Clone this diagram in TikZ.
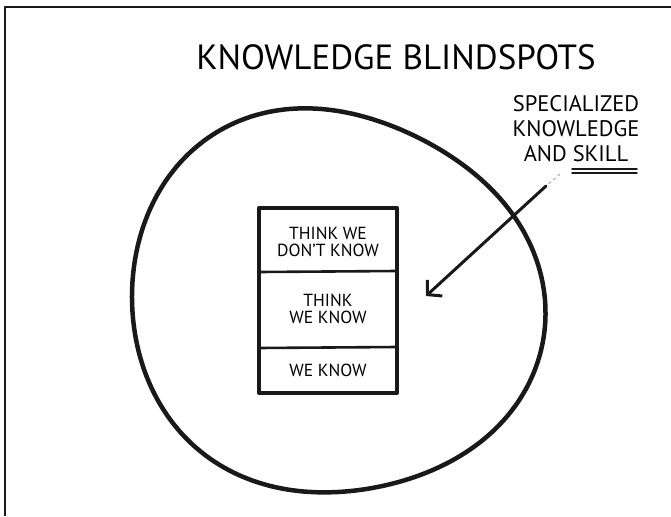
\documentclass[tikz,border=0pt]{standalone}
\usepackage{fontspec}
\setmainfont{PT Sans}
\usetikzlibrary{arrows.meta}
\begin{document}
\begin{tikzpicture}[x=1pt,y=-1pt,
  declare function={rr(\t)=199.25-4.7*cos(\t)+2.9*sin(\t)+8*cos(2*\t)+5*sin(2*\t)+5.2*cos(3*\t)+1.4*sin(3*\t)-0.75*cos(4*\t);},
  ink/.style={draw=black!90, line cap=round, line join=round},
  boxtext/.style={font=\fontsize{17.5}{17.5}\selectfont, align=center, inner sep=0pt},
  lbl/.style={font=\fontsize{22.5}{25}\selectfont, align=center, inner sep=0pt}]
\useasboundingbox (0,0) rectangle (671,516);
% frame (top and left edges only visible)
\draw[ink, line width=2.2pt, line cap=butt] (5,516) -- (5,7) -- (671,7);
% title
\node[font=\fontsize{35}{35}\selectfont, inner sep=0pt] (title) at (396,57) {KNOWLEDGE BLINDSPOTS};
% big circle
\draw[ink, line width=4.5pt] plot[smooth cycle, domain=0:355, samples=72, variable=\t]
  ({338+rr(\t)*cos(\t)}, {300+rr(\t)*sin(\t)});
% stacked box
\node[ink, line width=4pt, minimum width=138pt, minimum height=185pt, inner sep=0pt] (box) at (328,300.5) {};
\coordinate (d1l) at (259,272); \coordinate (d1r) at (397,271);
\coordinate (d2l) at (259,348); \coordinate (d2r) at (397,347);
\draw[ink, line width=2.6pt] (d1l) -- (d1r);
\draw[ink, line width=2.6pt] (d2l) -- (d2r);
\node[boxtext] (t1) at (328,242) {THINK WE\\[-1pt]DON'T KNOW};
\node[boxtext] (t2) at (328,309) {THINK\\[-1pt]WE KNOW};
\node[boxtext] (t3) at (328,370) {WE KNOW};
% side label
\node[lbl] (spec) at (576,129) {SPECIALIZED\\KNOWLEDGE\\AND SKILL};
\coordinate (u1a) at (572,169); \coordinate (u1b) at (637,169);
\coordinate (u2a) at (572,173); \coordinate (u2b) at (637,173);
\draw[ink, line width=1.4pt] (u1a) -- (u1b);
\draw[ink, line width=1.4pt] (u2a) -- (u2b);
% arrow
\coordinate (afaint) at (560,174);
\coordinate (astart) at (546,186);
\coordinate (atip) at (426,296);
\draw[black!35, line width=1pt, dashed] (afaint) -- (astart);
\draw[ink, line width=3pt, -{Straight Barb[length=10pt,width=22pt,line width=3pt]}] (astart) -- (atip);
\end{tikzpicture}
\end{document}
